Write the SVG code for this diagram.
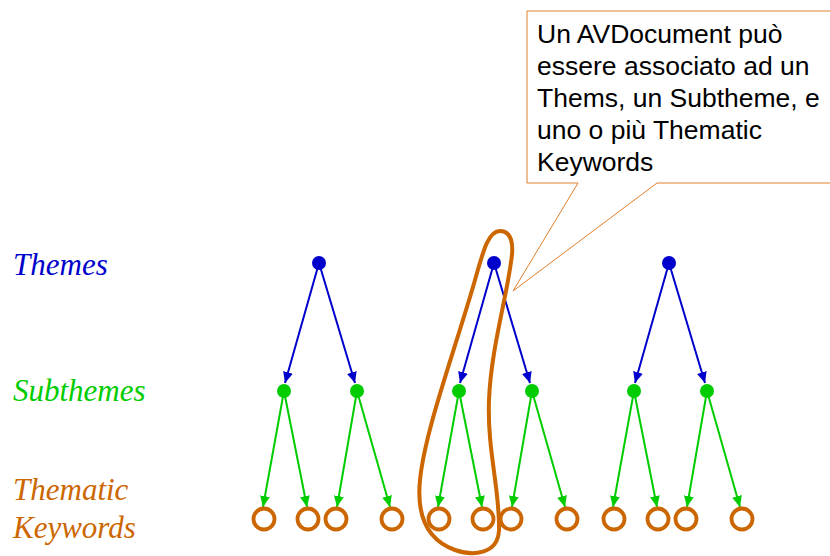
<svg xmlns="http://www.w3.org/2000/svg" width="830" height="556" viewBox="0 0 830 556">
<style>
.lbl{font-family:"Liberation Serif","Times New Roman",serif;font-style:italic;font-size:31px}
.note{font-family:"Liberation Sans",Arial,sans-serif;font-size:26.5px;fill:#000}
.th{fill:#0000CC}
.st{fill:#00CC00}
.kw{fill:none;stroke:#CC6600;stroke-width:3.8}
.eb{stroke:#0000CC;stroke-width:2;fill:none;marker-end:url(#ab)}
.eg{stroke:#00CC00;stroke-width:2;fill:none;marker-end:url(#ag)}
</style>
<defs>
<marker id="ab" markerUnits="userSpaceOnUse" markerWidth="12" markerHeight="10" refX="11" refY="5" orient="auto"><path d="M0,0 L11,5 L0,10 z" fill="#0000CC"/></marker>
<marker id="ag" markerUnits="userSpaceOnUse" markerWidth="12" markerHeight="10" refX="11" refY="5" orient="auto"><path d="M0,0 L11,5 L0,10 z" fill="#00CC00"/></marker>
</defs>
<rect width="830" height="556" fill="#fff"/>
<g id="labels">
<text class="lbl" x="13" y="275" fill="#0000CC">Themes</text>
<text class="lbl" x="13" y="401" fill="#00CC00">Subthemes</text>
<text class="lbl" x="13" y="500" fill="#CC6600">Thematic</text>
<text class="lbl" x="13" y="538" fill="#CC6600">Keywords</text>
</g>
<g id="connectors">
<line class="eb" x1="319" y1="263" x2="285" y2="383"/>
<line class="eb" x1="319" y1="263" x2="355" y2="383"/>
<line class="eb" x1="494" y1="263" x2="460" y2="383"/>
<line class="eb" x1="494" y1="263" x2="530" y2="383"/>
<line class="eb" x1="669" y1="263" x2="635" y2="383"/>
<line class="eb" x1="669" y1="263" x2="705" y2="383"/>
<line class="eg" x1="284" y1="391" x2="263" y2="507"/>
<line class="eg" x1="284" y1="391" x2="307" y2="507"/>
<line class="eg" x1="357" y1="391" x2="337" y2="507"/>
<line class="eg" x1="357" y1="391" x2="390" y2="507"/>
<line class="eg" x1="459" y1="391" x2="438" y2="507"/>
<line class="eg" x1="459" y1="391" x2="482" y2="507"/>
<line class="eg" x1="532" y1="391" x2="512" y2="507"/>
<line class="eg" x1="532" y1="391" x2="565" y2="507"/>
<line class="eg" x1="634" y1="391" x2="613" y2="507"/>
<line class="eg" x1="634" y1="391" x2="657" y2="507"/>
<line class="eg" x1="707" y1="391" x2="687" y2="507"/>
<line class="eg" x1="707" y1="391" x2="740" y2="507"/>
</g>
<g id="tree1">
<circle id="t1" class="th" cx="319" cy="263" r="7"/>
<circle id="s1a" class="st" cx="284" cy="391" r="7"/>
<circle id="s1b" class="st" cx="357" cy="391" r="7"/>
<circle id="k1a" class="kw" cx="264" cy="519" r="10.5"/>
<circle id="k1b" class="kw" cx="308" cy="519" r="10.5"/>
<circle id="k1c" class="kw" cx="336" cy="519" r="10.5"/>
<circle id="k1d" class="kw" cx="392" cy="519" r="10.5"/>
</g>
<g id="tree2">
<circle id="t2" class="th" cx="494" cy="263" r="7"/>
<circle id="s2a" class="st" cx="459" cy="391" r="7"/>
<circle id="s2b" class="st" cx="532" cy="391" r="7"/>
<circle id="k2a" class="kw" cx="439" cy="519" r="10.5"/>
<circle id="k2b" class="kw" cx="483" cy="519" r="10.5"/>
<circle id="k2c" class="kw" cx="511" cy="519" r="10.5"/>
<circle id="k2d" class="kw" cx="567" cy="519" r="10.5"/>
</g>
<g id="tree3">
<circle id="t3" class="th" cx="669" cy="263" r="7"/>
<circle id="s3a" class="st" cx="634" cy="391" r="7"/>
<circle id="s3b" class="st" cx="707" cy="391" r="7"/>
<circle id="k3a" class="kw" cx="614" cy="519" r="10.5"/>
<circle id="k3b" class="kw" cx="658" cy="519" r="10.5"/>
<circle id="k3c" class="kw" cx="686" cy="519" r="10.5"/>
<circle id="k3d" class="kw" cx="742" cy="519" r="10.5"/>
</g>
<g id="lasso">
<path d="M500,231 C512,231 514,245 511,262 C506,300 491,350 489,400 C487,450 500,490 499,530 C498,555 472,556 455,550 C430,541 416,520 420,480 C425,430 455,350 475,280 C483,252 488,231 500,231 Z" fill="none" stroke="#CC6600" stroke-width="4"/>
</g>
<g id="callout">
<path d="M527,11 H832 V183 H657 L513,291 L578,183 H527 Z" fill="#fff" stroke="#E07F2A" stroke-width="1"/>
<text class="note" x="537" y="43">Un AVDocument può</text>
<text class="note" x="537" y="75">essere associato ad un</text>
<text class="note" x="537" y="107">Thems, un Subtheme, e</text>
<text class="note" x="537" y="139">uno o più Thematic</text>
<text class="note" x="537" y="171">Keywords</text>
</g>
</svg>
